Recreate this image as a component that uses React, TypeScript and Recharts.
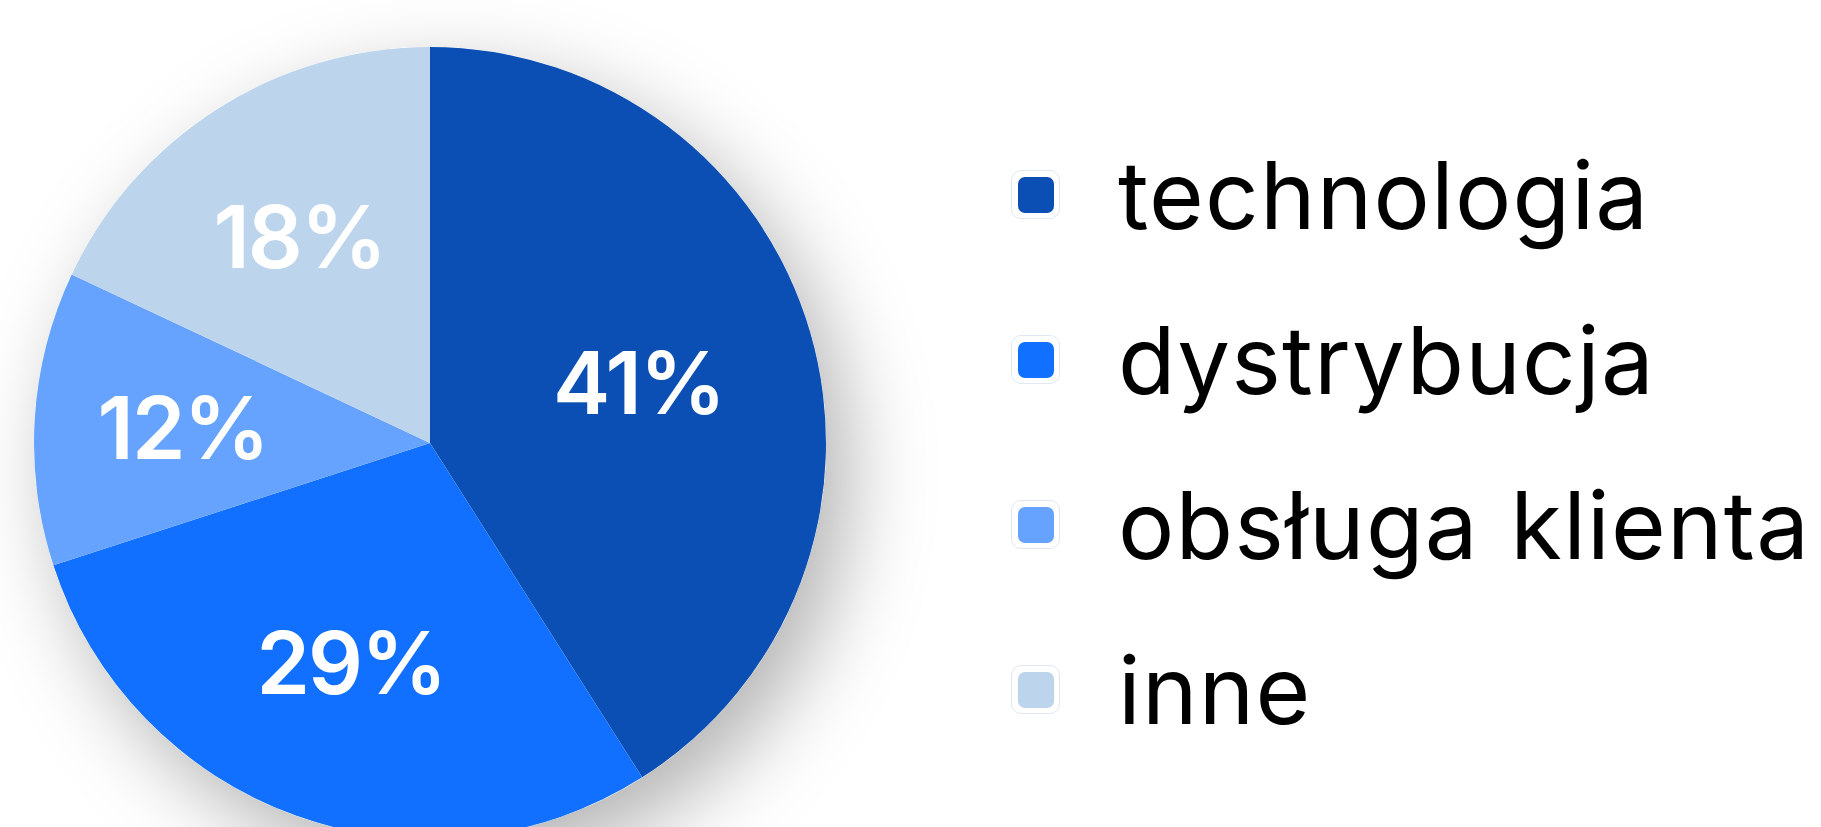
import { PieChart, Pie, Cell, Legend } from "recharts";

const categories = ["technologia", "dystrybucja", "obsługa klienta", "inne"];
const shares = [41, 29, 12, 18];
const colors = ["#0B4FB4", "#1170FF", "#66A3FF", "#BDD4ED"];

const data = categories.map((name, i) => ({ name, value: shares[i], color: colors[i] }));
const shadowData = [{ name: "bg", value: 1 }];

const W = 1821;
const H = 827;
const CX = 430;
const CY = 443;
const R = 396;
const RAD = Math.PI / 180;
const FONT = "Inter, 'Noto Sans', sans-serif";
const LABEL_SIZE = 86;

function SliceLabel(props: any) {
  const { cx, cy, midAngle, outerRadius, percent, value } = props;
  // blend of sector centroid and a fixed ring, so big slices sit closer in
  const theta = percent * 2 * Math.PI;
  const centroid = (4 * outerRadius * Math.sin(theta / 2)) / (3 * theta);
  const r = 0.5 * centroid + 0.3 * outerRadius;
  const x = cx + r * Math.cos(-midAngle * RAD);
  const y = cy + r * Math.sin(-midAngle * RAD);
  return (
    <text
      x={x}
      y={y + LABEL_SIZE * 0.727 / 2}
      fill="#fff"
      textAnchor="middle"
      fontFamily={FONT}
      fontWeight={600}
      fontSize={LABEL_SIZE}
      letterSpacing={-2}
    >
      {value}%
    </text>
  );
}

function LegendList() {
  return (
    <div style={{ fontFamily: FONT }}>
      {data.map((d) => (
        <div key={d.name} style={{ display: "flex", alignItems: "center", height: 165, whiteSpace: "nowrap" }}>
          <div
            style={{
              width: 47, height: 47, borderRadius: 10, border: "1px solid #dfe8f6", flexShrink: 0,
              background: "#fff", display: "flex", alignItems: "center", justifyContent: "center",
            }}
          >
            <div style={{ width: 36, height: 36, borderRadius: 7, background: d.color }} />
          </div>
          <span style={{ marginLeft: 58, fontSize: 94, lineHeight: 1, color: "#000", letterSpacing: 1.2, wordSpacing: 4 }}>
            {d.name}
          </span>
        </div>
      ))}
    </div>
  );
}

export default function App() {
  return (
    <div style={{ position: "absolute", left: 0, top: 0, width: W, height: H, background: "#fff", overflow: "hidden" }}>
      <PieChart width={W} height={H} margin={{ top: 0, right: 0, bottom: 0, left: 0 }}>
        <defs>
          <filter id="pieShadow" x="-40%" y="-40%" width="180%" height="180%">
            <feDropShadow dx={22} dy={30} stdDeviation={42} floodColor="#000" floodOpacity={0.3} />
          </filter>
        </defs>
        <Pie
          data={shadowData}
          dataKey="value"
          cx={CX}
          cy={CY}
          outerRadius={R}
          startAngle={90}
          endAngle={-270}
          stroke="none"
          isAnimationActive={false}
          legendType="none"
        >
          <Cell fill="#fff" filter="url(#pieShadow)" />
        </Pie>
        <Pie
          data={data}
          dataKey="value"
          nameKey="name"
          cx={CX}
          cy={CY}
          outerRadius={R}
          startAngle={90}
          endAngle={-270}
          stroke="none"
          labelLine={false}
          label={SliceLabel}
          isAnimationActive={false}
        >
          {data.map((d) => (
            <Cell key={d.name} fill={d.color} />
          ))}
        </Pie>
        <Legend
          content={() => <LegendList />}
          layout="vertical"
          wrapperStyle={{ position: "absolute", left: 1011, top: 112, width: 810 }}
        />
      </PieChart>
    </div>
  );
}
